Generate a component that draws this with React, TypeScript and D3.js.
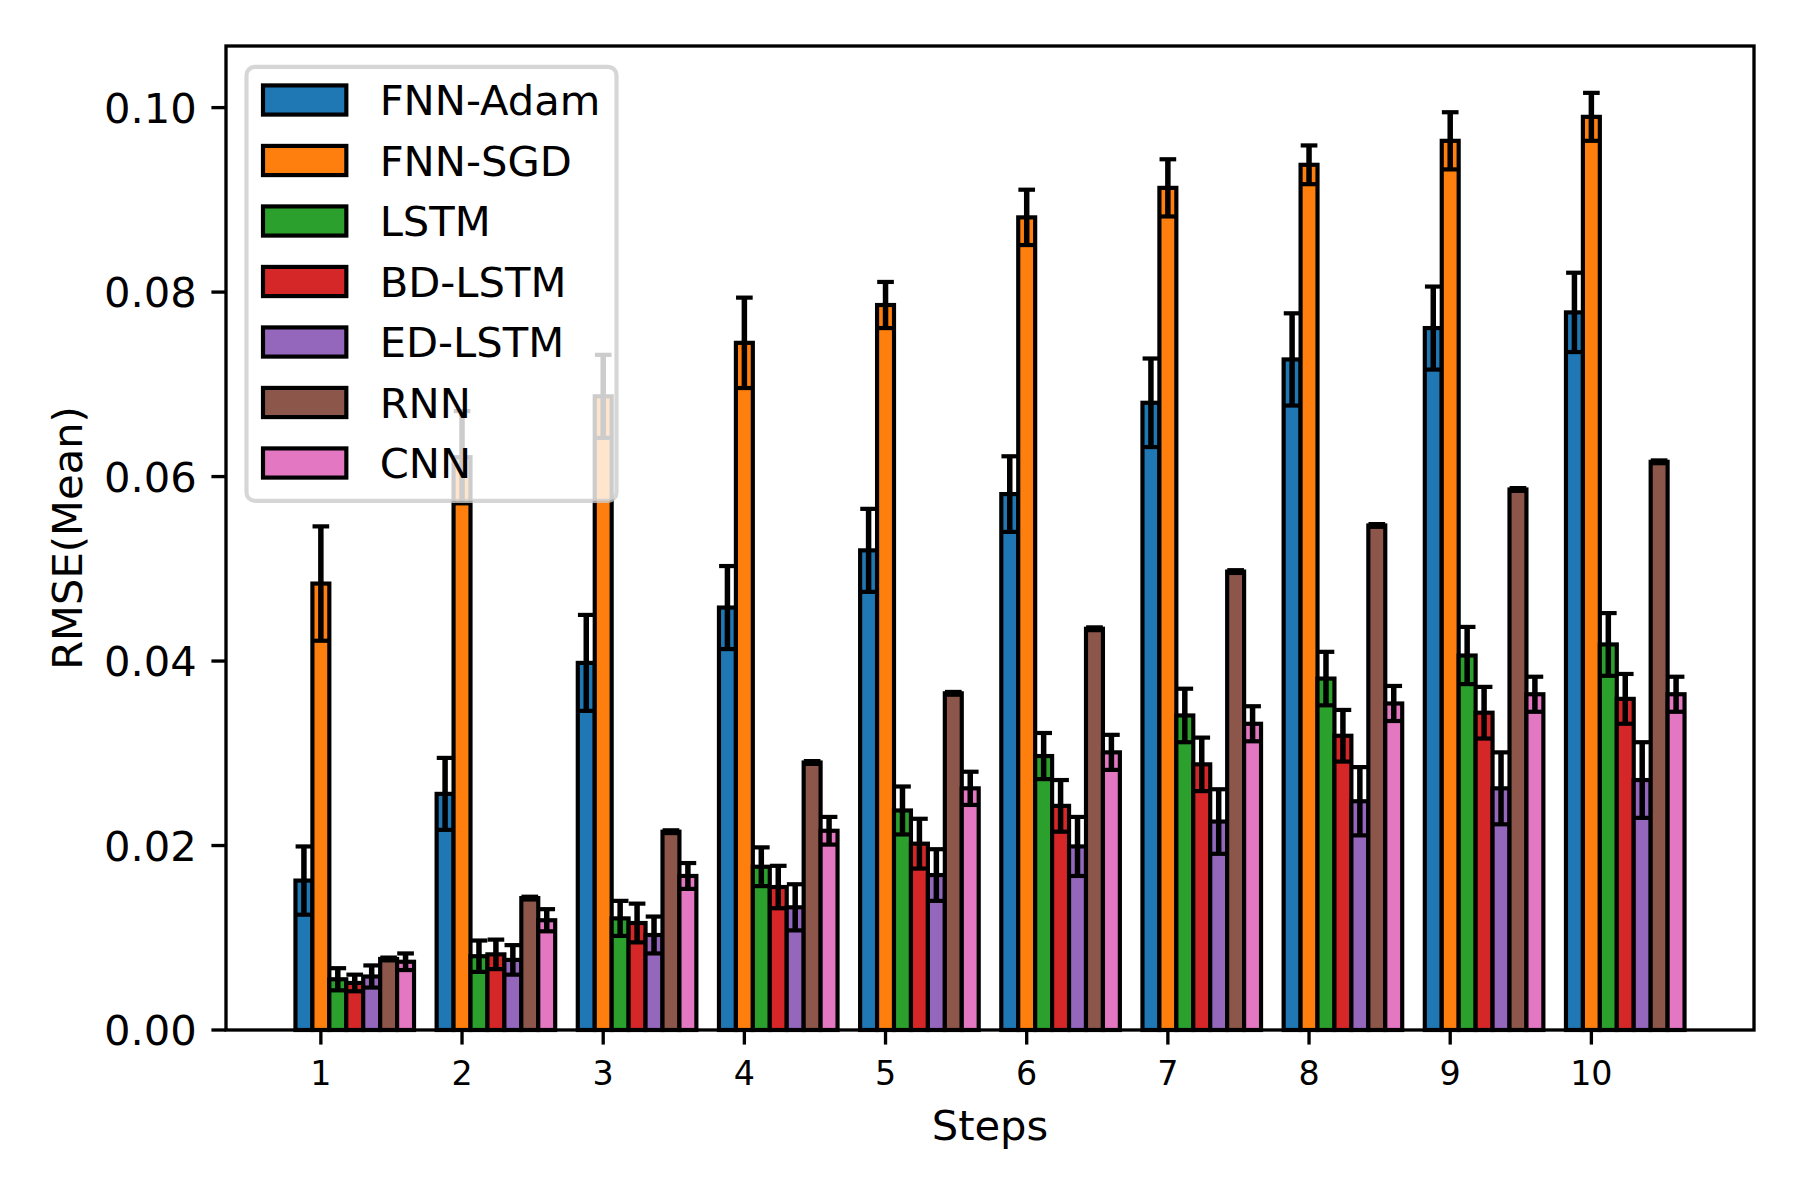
import React from "react";
import * as d3 from "d3";

// ---- data ----
const steps = [1, 2, 3, 4, 5, 6, 7, 8, 9, 10];
const seriesNames = ["FNN-Adam", "FNN-SGD", "LSTM", "BD-LSTM", "ED-LSTM", "RNN", "CNN"];
const seriesColors = ["#1f77b4", "#ff7f0e", "#2ca02c", "#d62728", "#9467bd", "#8c564b", "#e377c2"];

const fnnAdamMean = [0.0162, 0.0256, 0.0398, 0.0458, 0.0520, 0.0581, 0.0680, 0.0727, 0.0761, 0.0778];
const fnnAdamErr = [0.0037, 0.0039, 0.0052, 0.0045, 0.0045, 0.0041, 0.0048, 0.0050, 0.0045, 0.0043];
const fnnSgdMean = [0.0484, 0.0621, 0.0687, 0.0745, 0.0786, 0.0881, 0.0913, 0.0938, 0.0964, 0.0990];
const fnnSgdErr = [0.0062, 0.0050, 0.0045, 0.0049, 0.0025, 0.0030, 0.0031, 0.0021, 0.0031, 0.0026];
const lstmMean = [0.0055, 0.0080, 0.0121, 0.0177, 0.0238, 0.0297, 0.0341, 0.0381, 0.0406, 0.0418];
const lstmErr = [0.0012, 0.0017, 0.0019, 0.0021, 0.0026, 0.0025, 0.0029, 0.0029, 0.0031, 0.0034];
const bdLstmMean = [0.0051, 0.0082, 0.0116, 0.0155, 0.0202, 0.0243, 0.0288, 0.0319, 0.0344, 0.0359];
const bdLstmErr = [0.0009, 0.0016, 0.0021, 0.0023, 0.0027, 0.0028, 0.0029, 0.0028, 0.0028, 0.0027];
const edLstmMean = [0.0058, 0.0076, 0.0103, 0.0133, 0.0168, 0.0199, 0.0226, 0.0248, 0.0262, 0.0271];
const edLstmErr = [0.0012, 0.0016, 0.0020, 0.0025, 0.0028, 0.0032, 0.0035, 0.0037, 0.0039, 0.0041];
const rnnMean = [0.0077, 0.0143, 0.0215, 0.0290, 0.0365, 0.0435, 0.0497, 0.0547, 0.0586, 0.0616];
const rnnErr = [0.00015, 0.00015, 0.00015, 0.00015, 0.00015, 0.00015, 0.00015, 0.00015, 0.00015, 0.00015];
const cnnMean = [0.0074, 0.0119, 0.0167, 0.0216, 0.0262, 0.0301, 0.0332, 0.0354, 0.0364, 0.0364];
const cnnErr = [0.0009, 0.0012, 0.0014, 0.0015, 0.0018, 0.0019, 0.0019, 0.0019, 0.0019, 0.0019];

const yTicks = [0.0, 0.02, 0.04, 0.06, 0.08, 0.1];
const xLabel = "Steps";
const yLabel = "RMSE(Mean)";

const means = [fnnAdamMean, fnnSgdMean, lstmMean, bdLstmMean, edLstmMean, rnnMean, cnnMean];
const errs = [fnnAdamErr, fnnSgdErr, lstmErr, bdLstmErr, edLstmErr, rnnErr, cnnErr];

// ---- layout ----
const W = 1800;
const H = 1200;
const AX_L = 226;
const AX_R = 1754;
const AX_T = 46;
const AX_B = 1030;
const BAR_W = 0.12;
const PT = 300 / 72;
const FONT = "'DejaVu Sans', 'Liberation Sans', sans-serif";

export default function App() {
  const offsets = seriesNames.map((_, i) => (i - 1) * BAR_W);
  const dataLeft = (d3.min(steps) as number) + offsets[0] - BAR_W / 2;
  const dataRight = (d3.max(steps) as number) + offsets[offsets.length - 1] + BAR_W / 2;
  const pad = 0.05 * (dataRight - dataLeft);
  const x = d3.scaleLinear().domain([dataLeft - pad, dataRight + pad]).range([AX_L, AX_R]);

  const topMax = d3.max(means.flatMap((m, i) => m.map((v, j) => v + errs[i][j]))) as number;
  const y = d3.scaleLinear().domain([0, topMax * 1.05]).range([AX_B, AX_T]);

  const fs = 10 * PT; // 41.67
  const fsSmall = 8 * PT;
  const tickLen = 3.5 * PT;
  const tickPad = 3.5 * PT;
  const capHalf = 2 * PT;

  // legend
  const legL = 246.5;
  const legT = 66.8;
  const legW = 370;
  const legH = 434;
  const rowC0 = 100;
  const rowPitch = 60.5;
  const handleX = 263;
  const handleW = 2 * fs;
  const handleH = 0.7 * fs;
  const textX = handleX + handleW + 0.8 * fs;

  return (
    <svg
      width={W}
      height={H}
      viewBox={`0 0 ${W} ${H}`}
      style={{ position: "absolute", left: 0, top: 0, background: "#ffffff" }}
      fontFamily={FONT}
    >
      <rect x={0} y={0} width={W} height={H} fill="#ffffff" />

      {/* bars */}
      {means.map((m, si) => (
        <g key={"bars" + si}>
          {steps.map((s, j) => {
            const x0 = x(s + offsets[si] - BAR_W / 2);
            const x1 = x(s + offsets[si] + BAR_W / 2);
            return (
              <rect
                key={j}
                x={x0}
                y={y(m[j])}
                width={x1 - x0}
                height={y(0) - y(m[j])}
                fill={seriesColors[si]}
                stroke="#000"
                strokeWidth={1 * PT}
              />
            );
          })}
        </g>
      ))}

      {/* error bars */}
      {means.map((m, si) => (
        <g key={"err" + si} stroke="#000">
          {steps.map((s, j) => {
            const xc = x(s + offsets[si]);
            const lo = y(m[j] - errs[si][j]);
            const hi = y(m[j] + errs[si][j]);
            return (
              <g key={j}>
                <line x1={xc} x2={xc} y1={lo} y2={hi} strokeWidth={5.5} />
                <line x1={xc - capHalf} x2={xc + capHalf} y1={lo} y2={lo} strokeWidth={4.2} />
                <line x1={xc - capHalf} x2={xc + capHalf} y1={hi} y2={hi} strokeWidth={4.2} />
              </g>
            );
          })}
        </g>
      ))}

      {/* axes frame */}
      <rect
        x={AX_L}
        y={AX_T}
        width={AX_R - AX_L}
        height={AX_B - AX_T}
        fill="none"
        stroke="#000"
        strokeWidth={0.8 * PT}
      />

      {/* y ticks */}
      {yTicks.map((t) => (
        <g key={"yt" + t}>
          <line x1={AX_L - tickLen} x2={AX_L} y1={y(t)} y2={y(t)} stroke="#000" strokeWidth={0.8 * PT} />
          <text
            x={AX_L - tickLen - tickPad}
            y={y(t) + 0.3645 * fs}
            fontSize={fs}
            textAnchor="end"
            fill="#000"
          >
            {t.toFixed(2)}
          </text>
        </g>
      ))}

      {/* x ticks */}
      {steps.map((s) => (
        <g key={"xt" + s}>
          <line x1={x(s)} x2={x(s)} y1={AX_B} y2={AX_B + tickLen} stroke="#000" strokeWidth={0.8 * PT} />
          <text
            x={x(s)}
            y={AX_B + tickLen + tickPad + 0.76 * fsSmall}
            fontSize={fsSmall}
            textAnchor="middle"
            fill="#000"
          >
            {String(s)}
          </text>
        </g>
      ))}

      {/* axis labels */}
      <text x={(AX_L + AX_R) / 2} y={1140} fontSize={fs} textAnchor="middle" fill="#000">
        {xLabel}
      </text>
      <text
        x={82}
        y={(AX_T + AX_B) / 2}
        fontSize={fs}
        textAnchor="middle"
        fill="#000"
        transform={`rotate(-90, 82, ${(AX_T + AX_B) / 2})`}
      >
        {yLabel}
      </text>

      {/* legend */}
      <g>
        <rect
          x={legL}
          y={legT}
          width={legW}
          height={legH}
          rx={0.2 * fs}
          ry={0.2 * fs}
          fill="#ffffff"
          fillOpacity={0.8}
          stroke="#cccccc"
          strokeOpacity={0.8}
          strokeWidth={1 * PT}
        />
        {seriesNames.map((name, i) => {
          const cy = rowC0 + i * rowPitch;
          return (
            <g key={"leg" + i}>
              <rect
                x={handleX}
                y={cy - handleH / 2}
                width={handleW}
                height={handleH}
                fill={seriesColors[i]}
                stroke="#000"
                strokeWidth={1 * PT}
              />
              <text x={textX} y={cy + 0.3645 * fs} fontSize={fs} fill="#000">
                {name}
              </text>
            </g>
          );
        })}
      </g>
    </svg>
  );
}
